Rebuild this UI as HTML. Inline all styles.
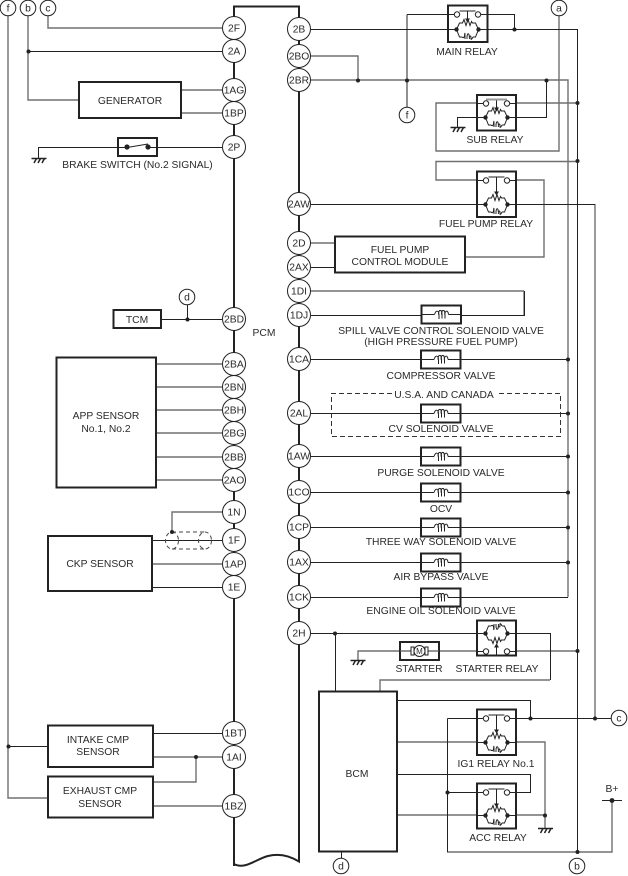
<!DOCTYPE html>
<html><head><meta charset="utf-8"><style>
html,body{margin:0;padding:0;background:#fff}
svg{display:block;font-family:"Liberation Sans",sans-serif;font-size:10.3px}
text{fill:#2a2a2a;text-anchor:middle}
.d{fill:none;stroke:#222;stroke-width:1}
.g{fill:none;stroke:#707070;stroke-width:1.4}
.b{fill:#fff;stroke:#222;stroke-width:2}
.n{fill:#fff;stroke:#222;stroke-width:1}
.t{fill:#222;stroke:none}
</style></head><body>
<svg width="628" height="876" viewBox="0 0 628 876" xmlns="http://www.w3.org/2000/svg">
<defs>
<g id="coil">
<path d="M-20 0H-11M11 0H20" stroke="#222" fill="none"/>
<path d="M-11 0L-8-6.5H-5L-3.5-10-1.500-4 .5-10 2.500-4 4-8 5-6.5H8L11 0 8 7.500H5.500M-5.500 7.500H-8L-11 0" stroke="#222" fill="none"/>
<path d="M-5.500 7.500c1 1 2 1 2.500-1 .4-4 .5-4 .5 3M-.5 9.500c-.4-7 2.800-7 2.400 0M2 7c1 0 1.500-2 1.500 2.500 0 1 1 0 2-2" stroke="#222" fill="none"/>
<circle cx="-11" r="2.200" class="t"/><circle cx="11" r="2.200" class="t"/>
</g>
<g id="con">
<path d="M-20 0H-13M13 0H20M-8-3.500H8" stroke="#222" fill="none"/>
<circle cx="-10.500" r="2.700" class="n"/><circle cx="10.500" r="2.700" class="n"/>
</g>
<g id="sm"><path d="M0-3.500V5" stroke="#222"/><path d="M-2.500 4H2.500L0 8Z" class="t"/></g>
<g id="lg"><path d="M0-3.500V12" stroke="#222"/><path d="M-2.500 11H2.500L0 15Z" class="t"/></g>
<g id="sol">
<rect x="-20" y="-9" width="39.500" height="18" class="b"/>
<path d="M-20 0H-7M7 0H19.500" stroke="#222" fill="none"/>
<path d="M-7 0c1.500-4.500 4.500-4.500 4.500 .5v4M-3 0c0-5.500 3.500-5.500 3.500 0v4M0 0c0-5.500 3.500-5.500 3.500 0v4M3 0c1-4.500 3.500-4.500 4 0" stroke="#222" fill="none"/>
</g>
<g id="gnd">
<path d="M-7 0H8" stroke="#222" stroke-width="1.500" fill="none"/>
<path d="M-2 0L-4.500 4.500M2 0L-.5 4.500M6 0L3.500 4.500" stroke="#222" stroke-width="1.500" fill="none"/>
</g>
</defs>

<!-- PCM body -->
<path d="M234 866V6.500H299V861.500C290 856 280 853 268 856S245 870 234 864" fill="none" stroke="#222" stroke-width="2"/>

<!-- left connections -->
<path class="g" d="M48 16V28H222M28 16V100H79M8 16V798H48M181 90H222M181 113H222M156 364H222M156 387H222M156 410H222M156 433H222M156 457H222M156 480H222M172 532V512H222M152 564H222M153 757H222M196 757V782H153M153 806H222"/>
<path class="d" d="M28.500 51.500H222M38.500 158V147.500H222M161 319.500H222M187.500 305V319.500M152 540.500H222M152 587.500H222M153 733.500H222M8 746.500H48"/>

<!-- right connections -->
<path class="g" d="M311 56H358V80M311 80H568V597M559 16V151H436V103H480M507 103H577M486 180H436V161.500H577M507 180H544V257H465M595 204V717M524 291H311M524 291V315M397 742H545V828M380 691V680H550M358 660V651H476M516 651H577M397 815H545M612 800V852H447"/>
<path class="g" d="M311 243H335"/>
<path class="d" d="M311 29.500H577.500V852M407 14.500H448M488 14.500H514.500V29.500M407 14.500V107M546.500 80V117.500H507M485 117.500H457.500V127M311 204.500H595M311 267.500H335M524.500 291V315.500H311M311 359.500H568M311 413.500H568M311 456.500H568M311 492.500H568M311 527.500H568M311 562.500H568M311 597.500H568M311 633.500H550.500V680M335.500 633.500V691M397 700.500H530.500V718.500M447.500 718.500H611M447.500 718.500V852M397 774.500H530.500V792.500H507M447.500 792.500H480M602 800.500H622M341.500 851V858"/>

<!-- dashed -->
<path d="M392 393.500H331.500V436.500H560.500V393.500H496" fill="none" stroke="#333" stroke-width="1" stroke-dasharray="5 3"/>
<path d="M172 532H205M172 549H205" fill="none" stroke="#444" stroke-dasharray="4 3"/>
<ellipse cx="172" cy="540.500" rx="6.500" ry="8.500" fill="none" stroke="#444" stroke-dasharray="4 3"/>
<ellipse cx="205" cy="540.500" rx="6.500" ry="8.500" fill="none" stroke="#444" stroke-dasharray="4 3"/>

<!-- boxes -->
<rect x="79" y="82" width="102" height="36" class="b"/>
<rect x="118" y="138" width="39" height="18" class="b"/>
<rect x="113.500" y="310" width="47.500" height="18" class="b"/>
<rect x="56.500" y="357.500" width="99.500" height="130" class="b"/>
<rect x="48" y="536" width="104" height="55" class="b"/>
<rect x="48" y="725.500" width="105" height="41.500" class="b"/>
<rect x="48" y="776.500" width="105" height="41" class="b"/>
<rect x="335" y="236.500" width="130" height="36" class="b"/>
<rect x="319" y="691.500" width="78" height="160" class="b"/>
<rect x="400" y="642" width="39" height="18" class="b"/>
<rect x="448" y="5.500" width="39.500" height="36.500" class="b"/>
<rect x="477" y="95" width="39" height="35.500" class="b"/>
<rect x="477" y="171.500" width="39" height="45.500" class="b"/>
<rect x="477" y="620.500" width="39" height="35" class="b"/>
<rect x="477" y="709.500" width="39" height="45.500" class="b"/>
<rect x="477" y="783.500" width="39" height="45" class="b"/>

<!-- relays -->
<use href="#con" x="467.500" y="14.500"/><use href="#sm" x="467.500" y="14.500"/><use href="#coil" x="467.500" y="29.500"/>
<use href="#con" x="496.500" y="103.500"/><use href="#sm" x="496.500" y="103.500"/><use href="#coil" x="496.500" y="117.500"/>
<path d="M486 99.500H507" stroke="#999" stroke-width="2"/>
<use href="#con" x="496.500" y="180.500"/><use href="#lg" x="496.500" y="180.500"/><use href="#coil" x="496.500" y="204.500"/>
<use href="#con" x="496.500" y="718.500"/><use href="#lg" x="496.500" y="718.500"/><use href="#coil" x="496.500" y="742.500"/>
<use href="#con" x="496.500" y="792.500"/><use href="#lg" x="496.500" y="792.500"/><use href="#coil" x="496.500" y="815.500"/>
<g transform="translate(496.500 633.500) scale(1 -1)"><use href="#coil"/></g>
<g transform="translate(496.500 651.500) scale(1 -1)"><use href="#con"/><use href="#sm"/></g>

<!-- brake switch -->
<path d="M118 147.500H127M127 147.500L148 144M148 147.500H157" stroke="#222" fill="none"/>
<circle cx="127" cy="147" r="2.600" class="t"/><circle cx="148" cy="147" r="2.600" class="t"/>

<!-- starter motor -->
<path d="M400 651H411M428 651H439" stroke="#555" stroke-width="1.200"/>
<path d="M411 647H414V655H411ZM425 647H428V655H425Z" fill="#fff" stroke="#222"/>
<circle cx="419.500" cy="651" r="5.500" class="n"/>
<text x="419.500" y="654" style="font-size:8px">M</text>

<!-- solenoids -->
<use href="#sol" x="441.500" y="314.500"/>
<use href="#sol" x="441" y="359.500"/>
<use href="#sol" x="441" y="413.500"/>
<use href="#sol" x="441" y="456.500"/>
<use href="#sol" x="441" y="492.500"/>
<use href="#sol" x="441" y="527.500"/>
<use href="#sol" x="441" y="562.500"/>
<use href="#sol" x="441" y="597.500"/>

<!-- grounds -->
<use href="#gnd" x="38.500" y="158.500"/>
<use href="#gnd" x="457.500" y="127.500"/>
<use href="#gnd" x="357.500" y="660.500"/>
<use href="#gnd" x="545" y="828.500"/>

<!-- dots -->
<g class="t">
<circle cx="28.500" cy="51.500" r="2"/><circle cx="187.500" cy="319.500" r="2"/><circle cx="172" cy="532" r="2"/>
<circle cx="8.500" cy="746.500" r="2"/><circle cx="196" cy="757" r="2"/>
<circle cx="514.500" cy="29.500" r="2"/><circle cx="358" cy="80.500" r="2"/><circle cx="407" cy="80.500" r="2"/>
<circle cx="546.500" cy="80.500" r="2"/><circle cx="577.500" cy="103" r="2"/><circle cx="577.500" cy="161" r="2"/>
<circle cx="568" cy="359.500" r="2"/><circle cx="568" cy="413.500" r="2"/>
<circle cx="568" cy="456.500" r="2"/><circle cx="568" cy="492.500" r="2"/><circle cx="568" cy="527.500" r="2"/><circle cx="568" cy="562.500" r="2"/>
<circle cx="335" cy="633.500" r="2"/><circle cx="577.500" cy="651" r="2"/><circle cx="530.500" cy="718.500" r="2"/>
<circle cx="595" cy="718.500" r="2"/><circle cx="447.500" cy="792.500" r="2"/><circle cx="545" cy="815.500" r="2"/>
<circle cx="577.500" cy="852" r="2"/><circle cx="612" cy="800.500" r="2.400"/>
</g>

<!-- node circles -->
<g class="n">
<circle cx="234" cy="28" r="11.500"/><circle cx="234" cy="51" r="11.500"/><circle cx="234" cy="90" r="11.500"/><circle cx="234" cy="113" r="11.500"/><circle cx="234" cy="147" r="11.500"/><circle cx="234" cy="319" r="11.500"/><circle cx="234" cy="364" r="11.500"/><circle cx="234" cy="387" r="11.500"/><circle cx="234" cy="410" r="11.500"/><circle cx="234" cy="433" r="11.500"/><circle cx="234" cy="457" r="11.500"/><circle cx="234" cy="480" r="11.500"/><circle cx="234" cy="512" r="11.500"/><circle cx="234" cy="540" r="11.500"/><circle cx="234" cy="564" r="11.500"/><circle cx="234" cy="587" r="11.500"/><circle cx="234" cy="733" r="11.500"/><circle cx="234" cy="757" r="11.500"/><circle cx="234" cy="806" r="11.500"/>
<circle cx="299" cy="29" r="11.500"/><circle cx="299" cy="56" r="11.500"/><circle cx="299" cy="80" r="11.500"/><circle cx="299" cy="204" r="11.500"/><circle cx="299" cy="243" r="11.500"/><circle cx="299" cy="267" r="11.500"/><circle cx="299" cy="291" r="11.500"/><circle cx="299" cy="315" r="11.500"/><circle cx="299" cy="359" r="11.500"/><circle cx="299" cy="413" r="11.500"/><circle cx="299" cy="456" r="11.500"/><circle cx="299" cy="492" r="11.500"/><circle cx="299" cy="527" r="11.500"/><circle cx="299" cy="562" r="11.500"/><circle cx="299" cy="597" r="11.500"/><circle cx="299" cy="633" r="11.500"/>
<circle cx="8" cy="8" r="7.800"/><circle cx="28" cy="8" r="7.800"/><circle cx="48" cy="8" r="7.800"/><circle cx="559" cy="8" r="7.800"/><circle cx="407" cy="115" r="7.800"/><circle cx="187" cy="297" r="7.800"/><circle cx="341" cy="866" r="7.800"/><circle cx="577" cy="866" r="7.800"/><circle cx="619" cy="718" r="7.800"/>
</g>

<!-- node labels -->
<g>
<text x="234" y="31.500">2F</text><text x="234" y="54.500">2A</text><text x="234" y="93.500">1AG</text><text x="234" y="116.500">1BP</text><text x="234" y="150.500">2P</text><text x="234" y="322.500">2BD</text><text x="234" y="367.500">2BA</text><text x="234" y="390.500">2BN</text><text x="234" y="413.500">2BH</text><text x="234" y="436.500">2BG</text><text x="234" y="460.500">2BB</text><text x="234" y="483.500">2AO</text><text x="234" y="515.500">1N</text><text x="234" y="543.500">1F</text><text x="234" y="567.500">1AP</text><text x="234" y="590.500">1E</text><text x="234" y="736.500">1BT</text><text x="234" y="760.500">1AI</text><text x="234" y="809.500">1BZ</text>
<text x="299" y="32.500">2B</text><text x="299" y="59.500">2BO</text><text x="299" y="83.500">2BR</text><text x="299" y="207.500">2AW</text><text x="299" y="246.500">2D</text><text x="299" y="270.500">2AX</text><text x="299" y="294.500">1DI</text><text x="299" y="318.500">1DJ</text><text x="299" y="362.500">1CA</text><text x="299" y="416.500">2AL</text><text x="299" y="459.500">1AW</text><text x="299" y="495.500">1CO</text><text x="299" y="530.500">1CP</text><text x="299" y="565.500">1AX</text><text x="299" y="600.500">1CK</text><text x="299" y="636.500">2H</text>
<text x="8" y="11.500">f</text><text x="28" y="11.500">b</text><text x="48" y="11.500">c</text><text x="559" y="11.500">a</text><text x="407" y="118.500">f</text><text x="187" y="300.500">d</text><text x="341" y="869.500">d</text><text x="577" y="869.500">b</text><text x="619" y="721.500">c</text>
</g>

<!-- labels -->
<text x="130" y="104">GENERATOR</text>
<text x="137.500" y="168">BRAKE SWITCH (No.2 SIGNAL)</text>
<text x="137" y="323">TCM</text>
<text x="264" y="336">PCM</text>
<text x="106" y="419">APP SENSOR</text><text x="106" y="432">No.1, No.2</text>
<text x="100" y="567">CKP SENSOR</text>
<text x="98" y="743">INTAKE CMP</text><text x="98" y="755">SENSOR</text>
<text x="100" y="794">EXHAUST CMP</text><text x="100" y="807">SENSOR</text>
<text x="467" y="55">MAIN RELAY</text>
<text x="495" y="143">SUB RELAY</text>
<text x="486" y="227">FUEL PUMP RELAY</text>
<text x="400" y="253">FUEL PUMP</text><text x="400" y="265">CONTROL MODULE</text>
<text x="441" y="334">SPILL VALVE CONTROL SOLENOID VALVE</text>
<text x="441" y="345">(HIGH PRESSURE FUEL PUMP)</text>
<text x="441" y="379">COMPRESSOR VALVE</text>
<text x="444" y="398">U.S.A. AND CANADA</text>
<text x="441" y="432">CV SOLENOID VALVE</text>
<text x="441" y="476">PURGE SOLENOID VALVE</text>
<text x="441" y="512">OCV</text>
<text x="441" y="545">THREE WAY SOLENOID VALVE</text>
<text x="441" y="580">AIR BYPASS VALVE</text>
<text x="441" y="614">ENGINE OIL SOLENOID VALVE</text>
<text x="419" y="672">STARTER</text>
<text x="497" y="672">STARTER RELAY</text>
<text x="357" y="777">BCM</text>
<text x="496" y="767">IG1 RELAY No.1</text>
<text x="498" y="841">ACC RELAY</text>
<text x="612" y="792">B+</text>
</svg>
</body></html>
